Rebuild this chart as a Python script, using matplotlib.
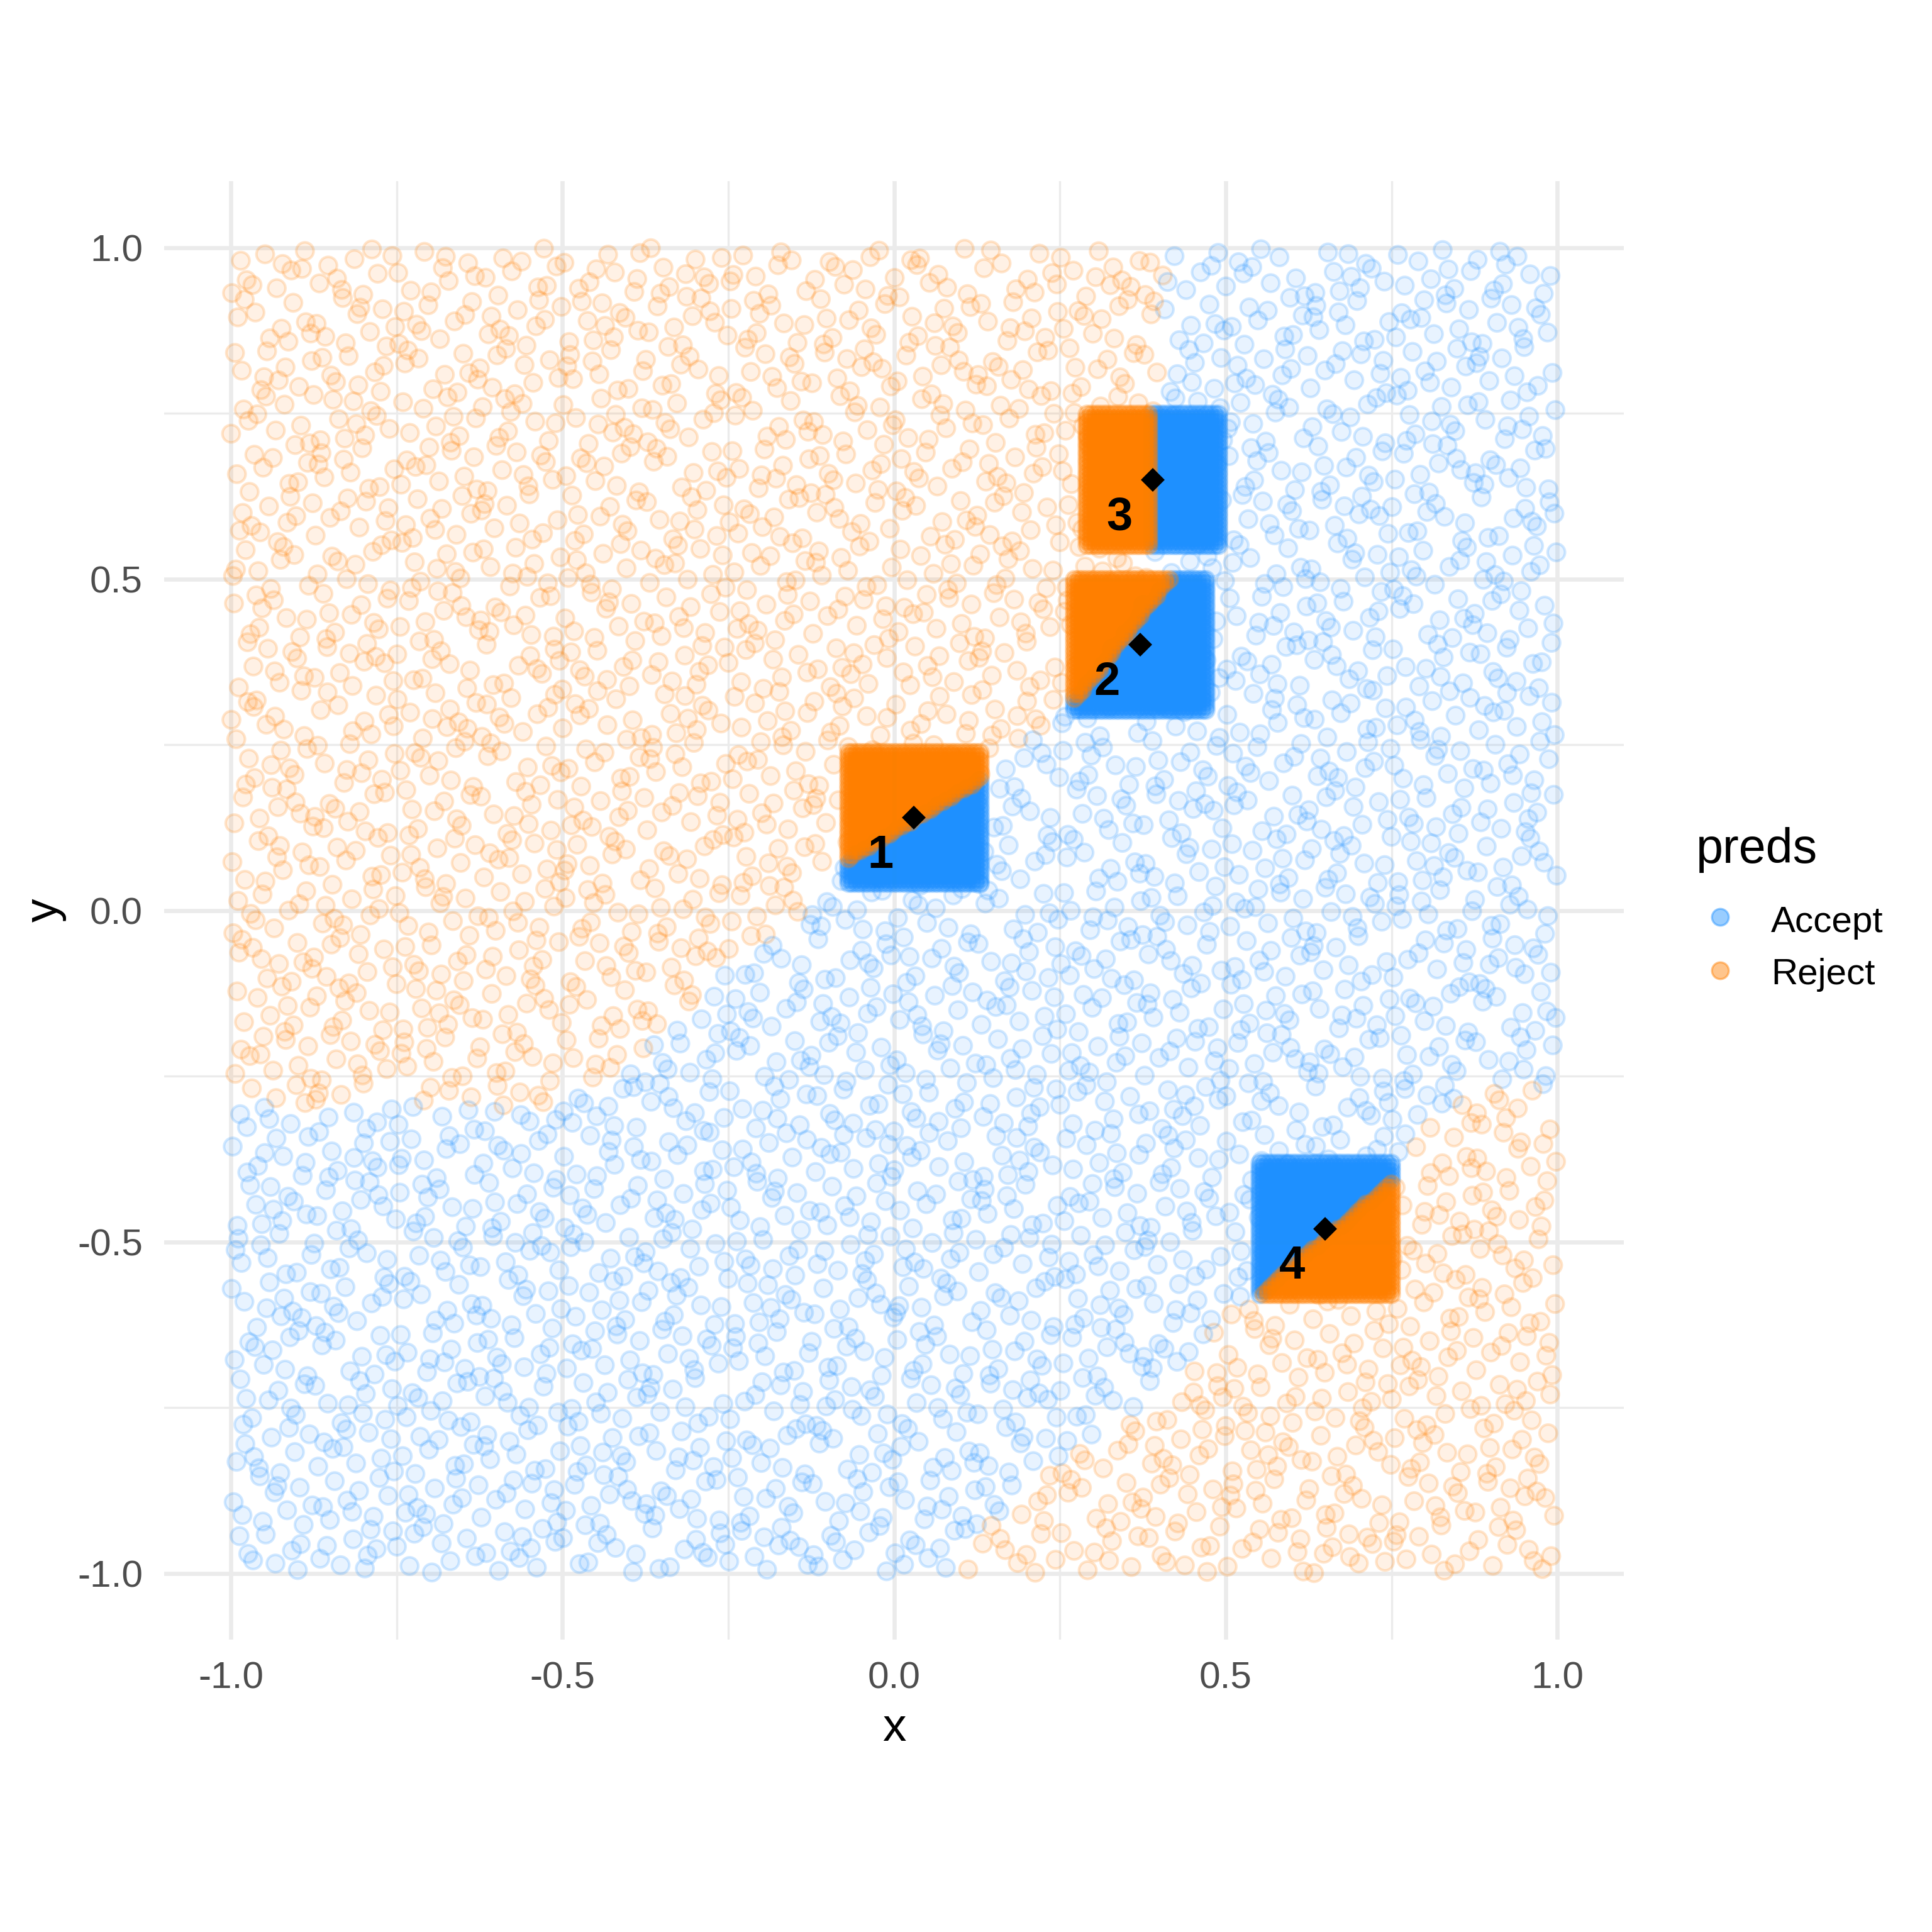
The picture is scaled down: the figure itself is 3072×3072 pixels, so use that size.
import numpy as np
import matplotlib
matplotlib.use("Agg")
import matplotlib.pyplot as plt
from matplotlib.colors import to_rgba
from matplotlib.lines import Line2D
from matplotlib.path import Path

plt.rcParams["font.family"] = ["Liberation Sans", "DejaVu Sans"]

BLUE = "#1E90FF"
ORANGE = "#FF7F00"

# classes and legend
classes = ["Accept", "Reject"]
class_colors = [BLUE, ORANGE]

# number of sampled points in the square [-1, 1] x [-1, 1]
n_points = 4000

# boundary of the two "Reject" regions
upper_x = [-1.1, -0.5, -0.43, -0.33, -0.25, -0.15, -0.07, 0.13, 0.26, 0.33, 0.39, 0.40, 0.415, -1.1]
upper_y = [-0.29, -0.30, -0.25, -0.17, -0.08, -0.015, 0.075, 0.20, 0.31, 0.40, 0.48, 0.75, 1.1, 1.1]
lower_x = [0.06, 0.08, 0.14, 0.20, 0.30, 0.37, 0.43, 0.49, 0.55, 0.65, 0.75, 0.80, 0.90, 1.1, 1.1]
lower_y = [-1.1, -1.0, -0.93, -0.875, -0.80, -0.76, -0.69, -0.62, -0.58, -0.49, -0.40, -0.31, -0.27, -0.25, -1.1]

# local explanations: box centre, label, local linear boundary
box_x = [0.030, 0.371, 0.390, 0.650]
box_y = [0.140, 0.401, 0.650, -0.480]
box_label = ["1", "2", "3", "4"]
box_px = [0.030, 0.264, 0.387, 0.650]
box_py = [0.137, 0.306, 0.650, -0.495]
box_nx = [-0.60, -1.28, -1.0, 0.853]
box_ny = [1.0, 1.0, 0.0, -1.0]
box_half = 0.099
grid_n = 33

major = [-1.0, -0.5, 0.0, 0.5, 1.0]
minor = [-0.75, -0.25, 0.25, 0.75]


def halton(n, base):
    # fixed low-discrepancy design standing in for the uniform sample
    seq = np.zeros(n)
    for i in range(n):
        f, k, r = 1.0, i + 1, 0.0
        while k > 0:
            f /= base
            r += f * (k % base)
            k //= base
        seq[i] = r
    return seq


px = -1 + 2 * halton(n_points, 2)
py = -1 + 2 * halton(n_points, 3)
pts = np.column_stack([px, py])
reject = Path(np.column_stack([upper_x, upper_y])).contains_points(pts) | Path(
    np.column_stack([lower_x, lower_y])
).contains_points(pts)
face = [to_rgba(ORANGE if r else BLUE, 0.10) for r in reject]
edge = [to_rgba(ORANGE if r else BLUE, 0.2) for r in reject]

fig = plt.figure(figsize=(10.24, 10.24), dpi=300)
ax = fig.add_axes([0.08512, 0.15137, 0.75527, 0.75478])
ax.set_xlim(-1.1, 1.1)
ax.set_ylim(-1.1, 1.1)
for s in ax.spines.values():
    s.set_visible(False)

ax.set_xticks(major)
ax.set_yticks(major)
ax.set_xticks(minor, minor=True)
ax.set_yticks(minor, minor=True)
ax.set_xticklabels([f"{v:.1f}" for v in major])
ax.set_yticklabels([f"{v:.1f}" for v in major])
ax.tick_params(which="both", length=0)
ax.tick_params(which="major", labelsize=14.5, labelcolor="#4D4D4D", pad=8.3)
ax.grid(which="major", color="#EBEBEB", linewidth=1.6)
ax.grid(which="minor", color="#EBEBEB", linewidth=0.8)
ax.set_axisbelow(True)

ax.scatter(px, py, s=44, facecolors=face, edgecolors=edge, linewidths=1.0, zorder=2)

# neighbourhood grids
for i in range(len(box_x)):
    gx, gy = np.meshgrid(
        np.linspace(box_x[i] - box_half, box_x[i] + box_half, grid_n),
        np.linspace(box_y[i] - box_half, box_y[i] + box_half, grid_n),
    )
    gx, gy = gx.ravel(), gy.ravel()
    side = box_nx[i] * (gx - box_px[i]) + box_ny[i] * (gy - box_py[i]) > 0
    for mask, col in ((~side, BLUE), (side, ORANGE)):
        ax.scatter(gx[mask], gy[mask], s=40, color=col, edgecolors=col,
                   linewidths=1.0, alpha=0.28, zorder=3)

ax.plot(box_x, box_y, linestyle="none", marker="D", markersize=5.6,
        color="black", zorder=4)
for i in range(len(box_x)):
    ax.text(box_x[i] - 0.05, box_y[i] - 0.05, box_label[i], ha="center",
            va="center_baseline", fontsize=17.8, fontweight="bold",
            color="black", zorder=5)

# axis titles
fig.text(0.4627, 0.0990, "x", ha="center", va="baseline", fontsize=18)
fig.text(0.0296, 0.5288, "y", ha="center", va="baseline", fontsize=18,
         rotation=90, rotation_mode="anchor")

# legend
fig.text(0.8778, 0.5535, "preds", ha="left", va="baseline", fontsize=18.5)
leg_y = [0.5254, 0.4978]
txt_y = [0.5177, 0.4906]
for i, name in enumerate(classes):
    fig.add_artist(Line2D([0.8903], [leg_y[i]], transform=fig.transFigure,
                          linestyle="none", marker="o", markersize=6.4,
                          markerfacecolor=class_colors[i],
                          markeredgecolor=class_colors[i],
                          markeredgewidth=0.8, alpha=0.45))
    fig.text(0.9166, txt_y[i], name, ha="left", va="baseline", fontsize=14)

fig.savefig("out.png", dpi=300, facecolor="white")
